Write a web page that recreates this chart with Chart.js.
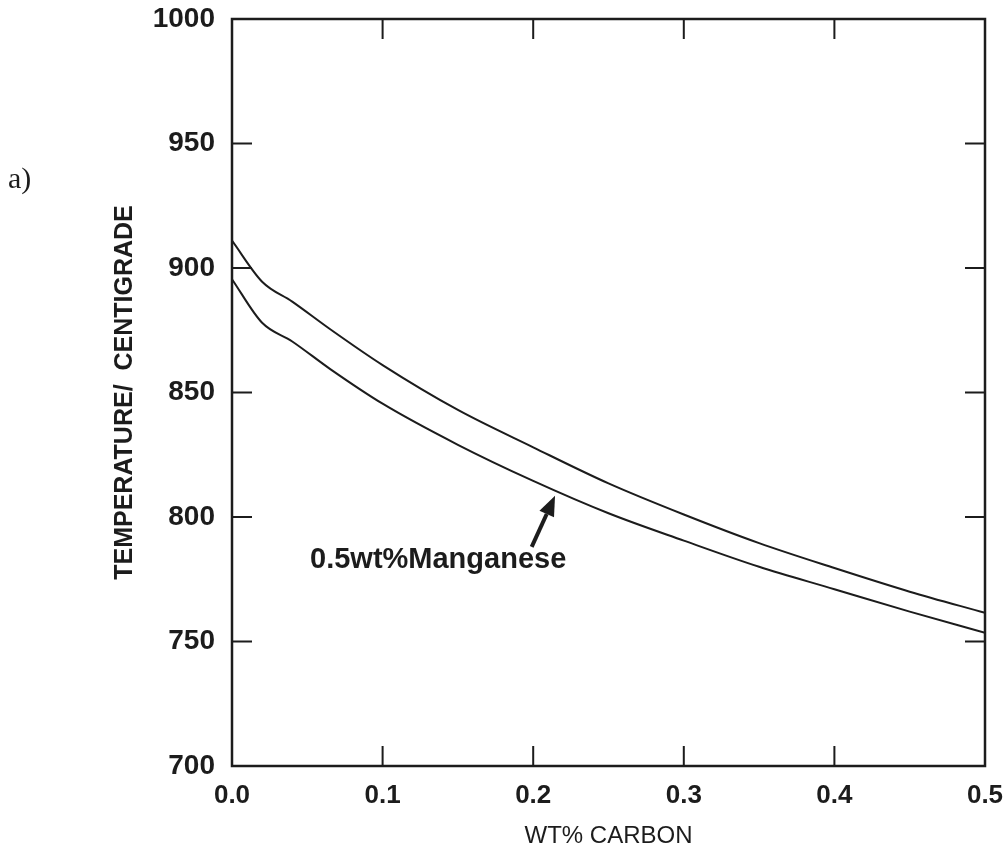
<!DOCTYPE html>
<html>
<head>
<meta charset="utf-8">
<script src="https://cdn.jsdelivr.net/npm/chart.js@4/dist/chart.umd.min.js"></script>
<style>
  html, body { margin: 0; padding: 0; background: #fff; }
  #wrap { width: 1006px; height: 861px; position: relative; }
</style>
</head>
<body>
<div id="wrap"><canvas id="c" width="1006" height="861"></canvas></div>
<script>
// ---- data ----
const carbon = [0, 0.02, 0.04, 0.065, 0.1, 0.15, 0.2, 0.25, 0.3, 0.35, 0.4, 0.45, 0.5];
const tempUpper = [911, 894.5, 886.5, 875.5, 861, 843, 828, 813.5, 801, 789.5, 779.5, 770, 761.5];
const tempLower = [895.5, 878, 870.5, 859.5, 845.5, 829, 814.5, 801.5, 790.5, 780, 771, 762, 753.5];
const yTicks = [700, 750, 800, 850, 900, 950, 1000];
const xTicks = [0.0, 0.1, 0.2, 0.3, 0.4, 0.5];
const annotationText = '0.5wt%Manganese';
const annotationPos = [0.0518, 779.5];
const arrowTail = [0.199, 788];
const arrowTip = [0.2145, 808.5];
const panelLabel = 'a)';
const xTitle = 'WT% CARBON';
const yTitle = 'TEMPERATURE/  CENTIGRADE';

const toPts = (xs, ys) => xs.map((v, i) => ({ x: v, y: ys[i] }));
const INK = '#1c1c1c';

const decor = {
  id: 'decor',
  afterDatasetsDraw(chart) {
    const { ctx, chartArea: a, scales: { x, y } } = chart;
    ctx.save();
    ctx.strokeStyle = INK;
    ctx.lineWidth = 2.5;
    ctx.strokeRect(a.left, a.top, a.right - a.left, a.bottom - a.top);
    ctx.lineWidth = 2;
    ctx.beginPath();
    const tl = 20;
    y.ticks.forEach((t, i) => {
      const py = y.getPixelForTick(i);
      ctx.moveTo(a.left, py); ctx.lineTo(a.left + tl, py);
      ctx.moveTo(a.right, py); ctx.lineTo(a.right - tl, py);
    });
    x.ticks.forEach((t, i) => {
      const px = x.getPixelForTick(i);
      ctx.moveTo(px, a.top); ctx.lineTo(px, a.top + tl);
      ctx.moveTo(px, a.bottom); ctx.lineTo(px, a.bottom - tl);
    });
    ctx.stroke();

    // arrow
    const tx = x.getPixelForValue(arrowTail[0]), ty = y.getPixelForValue(arrowTail[1]);
    const hx = x.getPixelForValue(arrowTip[0]), hy = y.getPixelForValue(arrowTip[1]);
    const ang = Math.atan2(hy - ty, hx - tx);
    const headLen = 20, headW = 8;
    const bx = hx - headLen * Math.cos(ang), by = hy - headLen * Math.sin(ang);
    ctx.lineWidth = 4;
    ctx.lineCap = 'butt';
    ctx.beginPath(); ctx.moveTo(tx, ty); ctx.lineTo(bx, by); ctx.stroke();
    ctx.fillStyle = INK;
    ctx.beginPath();
    ctx.moveTo(hx, hy);
    ctx.lineTo(bx + headW * Math.sin(ang), by - headW * Math.cos(ang));
    ctx.lineTo(bx - headW * Math.sin(ang), by + headW * Math.cos(ang));
    ctx.closePath(); ctx.fill();

    // annotation text
    ctx.font = 'bold 29px "Liberation Sans", Arial, sans-serif';
    ctx.textAlign = 'left';
    ctx.textBaseline = 'alphabetic';
    ctx.fillText(annotationText, x.getPixelForValue(annotationPos[0]), y.getPixelForValue(annotationPos[1]));

    // panel label
    ctx.font = '30px "Liberation Serif", "DejaVu Serif", serif';
    ctx.fillText(panelLabel, 8, 188);
    ctx.restore();
  }
};

new Chart(document.getElementById('c'), {
  type: 'line',
  data: {
    datasets: [
      { data: toPts(carbon, tempUpper), borderColor: INK, borderWidth: 2, pointRadius: 0, cubicInterpolationMode: 'monotone', fill: false },
      { data: toPts(carbon, tempLower), borderColor: INK, borderWidth: 2, pointRadius: 0, cubicInterpolationMode: 'monotone', fill: false }
    ]
  },
  options: {
    responsive: false,
    animation: false,
    events: [],
    layout: { padding: { top: 19, right: 21, left: 0, bottom: 0 } },
    plugins: { legend: { display: false }, tooltip: { enabled: false } },
    scales: {
      x: {
        type: 'linear', min: 0, max: 0.5,
        afterBuildTicks: s => { s.ticks = xTicks.map(v => ({ value: v })); },
        afterFit: s => { s.height = 95; s.paddingLeft = 0; s.paddingRight = 0; },
        grid: { display: false, drawTicks: false },
        border: { display: false },
        ticks: { color: INK, padding: 14, maxRotation: 0, autoSkip: false, font: { family: '"Liberation Sans", Arial, sans-serif', size: 26, weight: 'bold' },
                 callback: v => Number(v).toFixed(1) },
        title: { display: true, text: xTitle, color: INK, font: { family: '"Liberation Sans", Arial, sans-serif', size: 24 }, padding: { top: 0, bottom: 10 } }
      },
      y: {
        type: 'linear', min: 700, max: 1000,
        afterBuildTicks: s => { s.ticks = yTicks.map(v => ({ value: v })); },
        afterFit: s => { s.width = 232; s.paddingTop = 0; s.paddingBottom = 0; },
        grid: { display: false, drawTicks: false },
        border: { display: false },
        ticks: { color: INK, padding: 17, autoSkip: false, font: { family: '"Liberation Sans", Arial, sans-serif', size: 28, weight: 'bold' },
                 callback: v => String(v) },
        title: { display: true, text: yTitle, color: INK, font: { family: '"Liberation Sans", Arial, sans-serif', size: 25, weight: 'bold' }, padding: { top: 110, bottom: 0 } }
      }
    }
  },
  plugins: [decor]
});
</script>
</body>
</html>
